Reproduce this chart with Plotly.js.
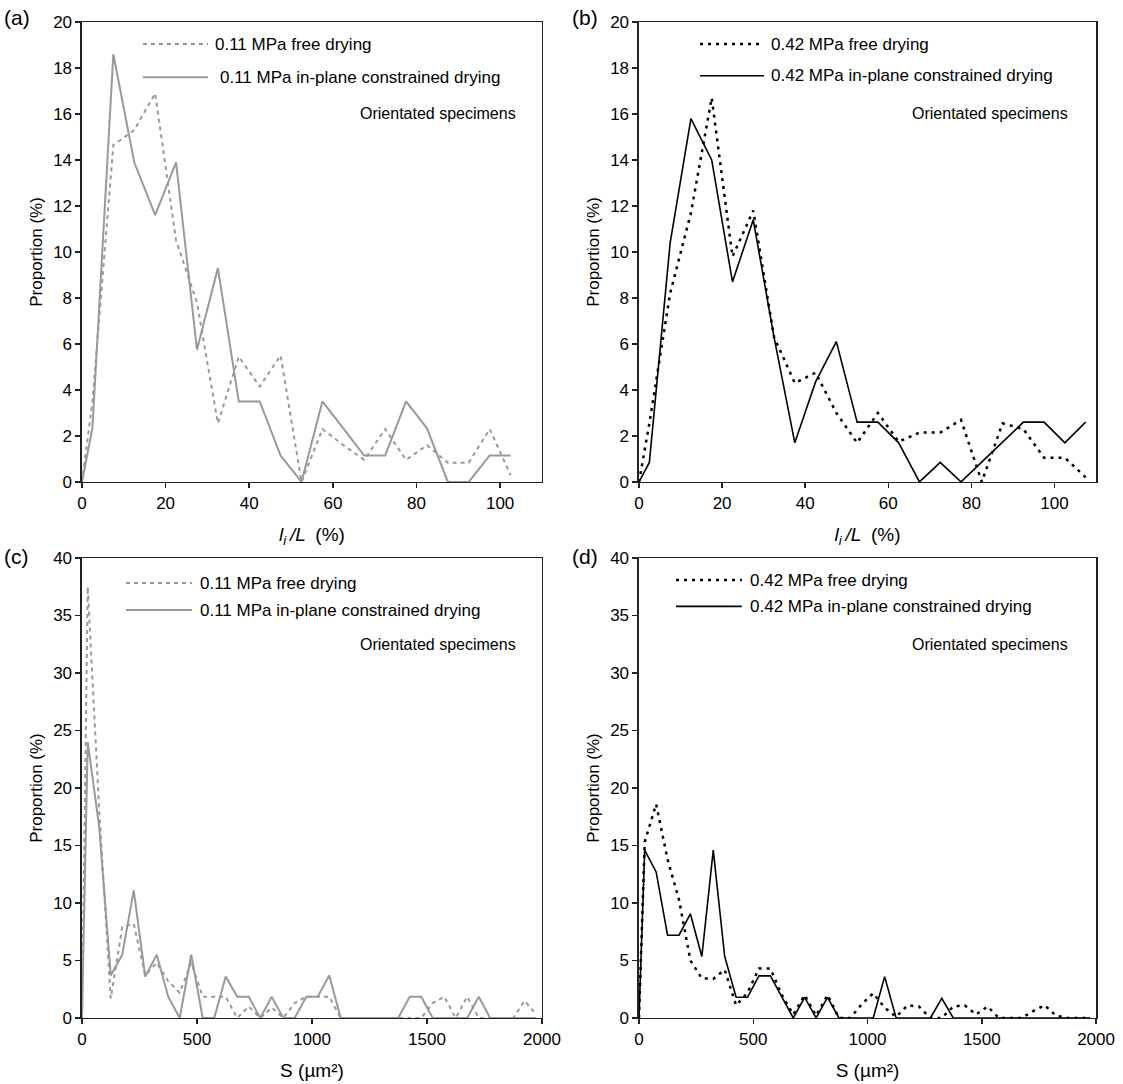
<!DOCTYPE html>
<html><head><meta charset="utf-8">
<script src="https://cdn.plot.ly/plotly-3.0.1.min.js"></script>
<style>body{margin:0;background:#fff}#chart{width:1123px;height:1084px}</style>
</head><body><div id="chart"></div>
<script>
// ---------- data ----------
var panelLabels = ['(a)', '(b)', '(c)', '(d)'];
var noteText = 'Orientated specimens';
var namesLow = ['0.11 MPa free drying', '0.11 MPa in-plane constrained drying'];
var namesHigh = ['0.42 MPa free drying', '0.42 MPa in-plane constrained drying'];
var yTitle = 'Proportion (%)';
var xTitleTop = '<i>l</i><sub><i>i</i></sub><i>\u2009/L</i>\u2002(%)';
var xTitleBottom = 'S (\u00b5m\u00b2)';

// (a) l_i/L, 0.11 MPa
var xA = [0, 2.5, 7.5, 12.5, 17.5, 22.5, 27.5, 32.5, 37.5, 42.5, 47.5, 52.5, 57.5, 62.5, 67.5, 72.5, 77.5, 82.5, 87.5, 92.5, 97.5, 102.5];
var aFree = [0, 3.5, 14.65, 15.3, 16.9, 10.5, 7.8, 2.55, 5.45, 4.15, 5.5, 0, 2.3, 1.6, 0.96, 2.3, 0.96, 1.6, 0.84, 0.84, 2.3, 0.3];
var aCons = [0, 2.35, 18.6, 13.9, 11.6, 13.9, 5.75, 9.3, 3.5, 3.5, 1.15, 0, 3.5, 2.3, 1.15, 1.15, 3.5, 2.33, 0, 0, 1.15, 1.15];

// (b) l_i/L, 0.42 MPa
var xB = [0, 2.5, 7.5, 12.5, 17.5, 22.5, 27.5, 32.5, 37.5, 42.5, 47.5, 52.5, 57.5, 62.5, 67.5, 72.5, 77.5, 82.5, 87.5, 92.5, 97.5, 102.5, 107.5];
var bFree = [0, 2.55, 8.2, 11.7, 16.7, 9.8, 11.8, 6.3, 4.3, 4.75, 3.0, 1.7, 3.0, 1.75, 2.15, 2.15, 2.7, 0, 2.55, 2.3, 1.05, 1.05, 0.2];
var bCons = [0, 0.85, 10.4, 15.8, 14.0, 8.7, 11.4, 6.3, 1.7, 4.35, 6.1, 2.6, 2.6, 1.7, 0, 0.85, 0, 0.87, 1.73, 2.6, 2.6, 1.7, 2.6];

// (c),(d) S in um^2
var xS = [0, 25, 75, 125, 175, 225, 275, 325, 375, 425, 475, 525, 575, 625, 675, 725, 775, 825, 875, 925, 975,
          1025, 1075, 1125, 1175, 1225, 1275, 1325, 1375, 1425, 1475, 1525, 1575, 1625, 1675, 1725, 1775, 1825, 1875, 1925, 1975];
var cFree = [0, 37.5, 18, 1.7, 7.9, 8.2, 3.7, 4.8, 3.2, 2.2, 4.8, 1.85, 1.85, 1.85, 0, 1.0, 0, 0.9, 0, 1.3, 1.85,
             1.85, 1.85, 0, 0, 0, 0, 0, 0, 0, 0, 1.3, 1.85, 0, 1.85, 0, 0, 0, 0, 1.5, 0.3];
var cCons = [0, 24, 16.6, 3.7, 5.5, 11.1, 3.6, 5.5, 1.85, 0, 5.5, 0, 0, 3.6, 1.85, 1.85, 0, 1.85, 0, 0, 1.85,
             1.85, 3.7, 0, 0, 0, 0, 0, 0, 1.85, 1.85, 0, 0, 0, 0, 1.85, 0, 0, 0, 0, 0];
var dFree = [0, 15.3, 18.6, 13.8, 10.3, 5.0, 3.45, 3.4, 4.2, 1.1, 2.2, 4.3, 4.3, 2.0, 0.3, 2.0, 0.2, 2.0, 0, 0, 1.2,
             2.15, 0.9, 0.1, 1.1, 1.0, 0, 0, 1.0, 1.1, 0.3, 1.0, 0, 0, 0, 0.6, 1.1, 0.2, 0, 0, 0];
var dCons = [0, 14.6, 12.7, 7.2, 7.2, 9.05, 5.35, 14.6, 5.35, 1.8, 1.8, 3.66, 3.66, 1.8, 0, 1.8, 0, 1.8, 0, 0, 0,
             0, 3.6, 0, 0, 0, 0, 1.7, 0, 0, 0, 0, 0, 0, 0, 0, 0, 0, 0, 0, 0];

// ---------- styles ----------
var GRAY = '#999999', BLACK = '#000000';
var grayFree = {color: GRAY, width: 2, dash: '4px,4px'};
var grayCons = {color: GRAY, width: 2};
var blackFree = {color: BLACK, width: 2.5, dash: '3px,5px'};
var blackCons = {color: BLACK, width: 1.6};
var FONT = 'Liberation Sans, Arial, Helvetica, sans-serif';

function tr(x, y, name, line, xa, ya) {
  return {type: 'scatter', mode: 'lines', x: x, y: y, name: name, line: line,
          xaxis: xa, yaxis: ya, showlegend: false, hoverinfo: 'x+y+name'};
}

var data = [
  tr(xA, aFree, namesLow[0], grayFree, 'x', 'y'),
  tr(xA, aCons, namesLow[1], grayCons, 'x', 'y'),
  tr(xB, bFree, namesHigh[0], blackFree, 'x2', 'y2'),
  tr(xB, bCons, namesHigh[1], blackCons, 'x2', 'y2'),
  tr(xS, cFree, namesLow[0], grayFree, 'x3', 'y3'),
  tr(xS, cCons, namesLow[1], grayCons, 'x3', 'y3'),
  tr(xS, dFree, namesHigh[0], blackFree, 'x4', 'y4'),
  tr(xS, dCons, namesHigh[1], blackCons, 'x4', 'y4')
];

var colL = [0.0730, 0.4826], colR = [0.5690, 0.9760];
var rowT = [0.5554, 0.9797], rowB = [0.0609, 0.4852];

function xax(domain, range, dtick, anchor, title) {
  return {domain: domain, range: range, dtick: dtick, tick0: 0, anchor: anchor,
          ticks: 'outside', ticklen: 5, tickwidth: 1.5, tickcolor: '#222',
          showline: true, linecolor: '#222', linewidth: 1.5, mirror: true,
          showgrid: false, zeroline: false,
          tickfont: {family: FONT, size: 17, color: '#000'},
          title: {text: title, font: {family: FONT, size: 19, color: '#000'}, standoff: 16}};
}
function yax(domain, range, dtick, anchor) {
  return {domain: domain, range: range, dtick: dtick, tick0: 0, anchor: anchor,
          ticks: 'outside', ticklen: 5, tickwidth: 1.5, tickcolor: '#222',
          showline: true, linecolor: '#222', linewidth: 1.5, mirror: true,
          showgrid: false, zeroline: false,
          tickfont: {family: FONT, size: 17, color: '#000'},
          title: {text: yTitle, font: {family: FONT, size: 17, color: '#000'}, standoff: 6}};
}

// legend samples and labels, positioned in each subplot's domain
var legendSpec = [
  {xr: 'x domain', yr: 'y domain', names: namesLow, lines: [grayFree, grayCons], x0: 0.1326, x1: 0.274, tx: [0.285, 0.296], ly: [0.952, 0.880], note: [0.948, 0.800]},
  {xr: 'x2 domain', yr: 'y2 domain', names: namesHigh, lines: [blackFree, blackCons], x0: 0.1335, x1: 0.2735, tx: [0.2845, 0.2845], ly: [0.952, 0.883], note: [0.943, 0.802]},
  {xr: 'x3 domain', yr: 'y3 domain', names: namesLow, lines: [grayFree, grayCons], x0: 0.0957, x1: 0.239, tx: [0.252, 0.252], ly: [0.9457, 0.887], note: [0.948, 0.811]},
  {xr: 'x4 domain', yr: 'y4 domain', names: namesHigh, lines: [blackFree, blackCons], x0: 0.081, x1: 0.225, tx: [0.2385, 0.2385], ly: [0.952, 0.895], note: [0.943, 0.8126]}
];
var shapes = [], annotations = [];
legendSpec.forEach(function (s) {
  for (var k = 0; k < 2; k++) {
    shapes.push({type: 'line', xref: s.xr, yref: s.yr, x0: s.x0, x1: s.x1, y0: s.ly[k], y1: s.ly[k], line: s.lines[k]});
    annotations.push({xref: s.xr, yref: s.yr, x: s.tx[k], y: s.ly[k], xanchor: 'left', yanchor: 'middle',
                      text: s.names[k], showarrow: false, font: {family: FONT, size: 17, color: '#000'}});
  }
  annotations.push({xref: s.xr, yref: s.yr, x: s.note[0], y: s.note[1], xanchor: 'right', yanchor: 'middle',
                    text: noteText, showarrow: false, font: {family: FONT, size: 16, color: '#000'}});
});
var labelPos = [[0.002, 0.9834], [0.5076, 0.9834], [0.002, 0.487], [0.5076, 0.487]];
panelLabels.forEach(function (t, i) {
  annotations.push({xref: 'paper', yref: 'paper', x: labelPos[i][0], y: labelPos[i][1], xanchor: 'left', yanchor: 'middle',
                    text: t, showarrow: false, font: {family: FONT, size: 21, color: '#000'}});
});

var layout = {
  width: 1123, height: 1084,
  margin: {l: 0, r: 0, t: 0, b: 0},
  paper_bgcolor: '#fff', plot_bgcolor: '#fff',
  font: {family: FONT, color: '#000'},
  showlegend: false,
  xaxis: xax(colL, [0, 110], 20, 'y', xTitleTop),
  yaxis: yax(rowT, [0, 20], 2, 'x'),
  xaxis2: xax(colR, [0, 110], 20, 'y2', xTitleTop),
  yaxis2: yax(rowT, [0, 20], 2, 'x2'),
  xaxis3: xax(colL, [0, 2000], 500, 'y3', xTitleBottom),
  yaxis3: yax(rowB, [0, 40], 5, 'x3'),
  xaxis4: xax(colR, [0, 2000], 500, 'y4', xTitleBottom),
  yaxis4: yax(rowB, [0, 40], 5, 'x4'),
  shapes: shapes,
  annotations: annotations
};

Plotly.newPlot('chart', data, layout, {staticPlot: true, displayModeBar: false});
</script></body></html>
